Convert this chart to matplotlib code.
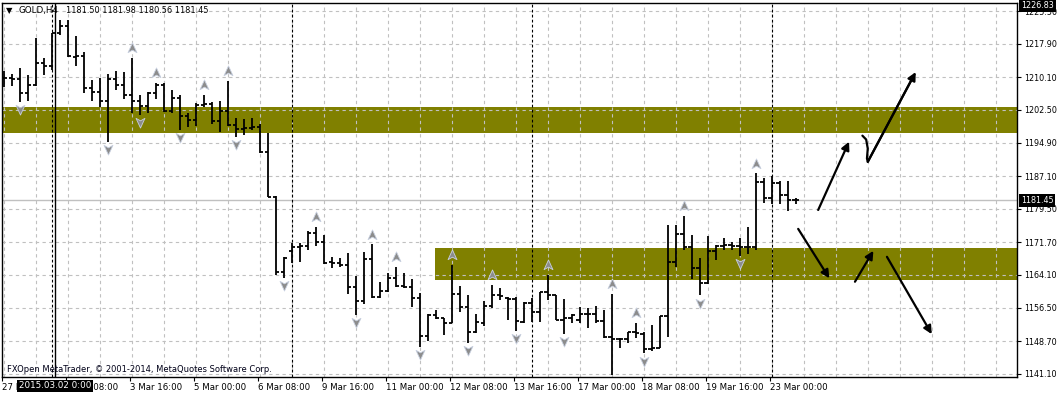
import numpy as np
import matplotlib.pyplot as plt
from matplotlib.path import Path

# GOLD H4 bars, Feb 27 .. Mar 23 2015
opens = [1209.9, 1209.9, 1209.6, 1206.5, 1208.4, 1213.5, 1212.6, 1220.3, 1222.1, 1214.9,
         1215.1, 1207.5, 1206.7, 1204.6, 1209.7, 1208.3, 1206.0, 1204.5, 1203.4, 1206.5,
         1208.4, 1202.2, 1205.2, 1201.1, 1200.1, 1203.6, 1203.9, 1199.8, 1202.3, 1199.0,
         1198.0, 1198.2, 1198.4, 1192.8, 1182.3, 1164.8, 1169.6, 1170.5, 1170.8, 1173.9,
         1171.7, 1167.0, 1166.8, 1166.5, 1161.3, 1158.0, 1167.8, 1159.0, 1160.4, 1163.4,
         1161.5, 1161.2, 1158.6, 1149.9, 1154.8, 1154.0, 1153.0, 1159.6, 1156.6, 1150.9,
         1153.0, 1156.9, 1159.4, 1158.7, 1158.5, 1153.2, 1157.5, 1155.4, 1160.0, 1159.3,
         1153.6, 1154.0, 1153.5, 1155.0, 1154.9, 1153.4, 1149.6, 1149.2, 1149.1, 1150.8,
         1150.4, 1146.8, 1147.0, 1154.5, 1167.2, 1173.5, 1170.5, 1165.8, 1162.1, 1169.7,
         1170.8, 1171.0, 1170.8, 1170.7, 1170.5, 1185.6, 1181.9, 1185.5, 1182.7, 1181.50]
highs = [1211.6, 1210.9, 1212.2, 1210.6, 1219.2, 1214.5, 1220.5, 1223.3, 1223.3, 1219.7,
         1216.0, 1209.5, 1209.9, 1210.9, 1211.6, 1211.2, 1214.6, 1206.0, 1206.7, 1208.8,
         1208.7, 1207.1, 1206.0, 1201.7, 1204.2, 1206.0, 1204.4, 1204.6, 1209.3, 1200.5,
         1200.3, 1200.5, 1199.2, 1197.0, 1182.4, 1168.3, 1171.5, 1171.6, 1174.2, 1175.2,
         1173.4, 1168.2, 1168.0, 1169.3, 1163.8, 1169.5, 1171.2, 1162.5, 1164.5, 1166.0,
         1164.6, 1163.1, 1159.8, 1155.0, 1155.9, 1154.1, 1166.4, 1161.5, 1159.4, 1155.0,
         1158.1, 1161.8, 1161.0, 1158.9, 1159.0, 1157.9, 1158.6, 1160.1, 1164.1, 1159.4,
         1158.4, 1154.9, 1156.7, 1156.3, 1156.9, 1155.9, 1159.7, 1149.4, 1150.9, 1153.0,
         1150.9, 1152.5, 1154.6, 1175.7, 1175.7, 1177.8, 1173.4, 1168.1, 1173.2, 1171.1,
         1172.6, 1171.8, 1172.6, 1175.2, 1187.7, 1186.7, 1187.1, 1186.0, 1186.0, 1181.98]
lows = [1207.8, 1208.1, 1204.3, 1204.6, 1208.1, 1210.6, 1211.8, 1220.0, 1214.8, 1212.7,
        1206.5, 1204.6, 1203.2, 1195.1, 1207.1, 1205.0, 1201.8, 1201.3, 1201.8, 1205.0,
        1202.1, 1201.7, 1197.8, 1198.5, 1198.8, 1203.1, 1199.2, 1197.4, 1198.8, 1196.3,
        1196.7, 1197.7, 1192.4, 1182.2, 1164.1, 1163.3, 1166.8, 1167.2, 1169.9, 1170.8,
        1166.6, 1165.6, 1166.0, 1159.6, 1154.8, 1157.3, 1158.6, 1158.7, 1160.2, 1161.2,
        1161.0, 1156.6, 1147.4, 1148.8, 1153.8, 1150.0, 1153.0, 1155.5, 1148.3, 1150.6,
        1152.2, 1156.3, 1158.3, 1153.6, 1151.1, 1152.8, 1153.2, 1153.2, 1158.3, 1153.5,
        1150.3, 1152.8, 1152.8, 1151.7, 1153.0, 1149.5, 1140.8, 1147.0, 1148.2, 1149.3,
        1145.8, 1146.3, 1147.0, 1149.7, 1166.0, 1170.0, 1163.1, 1159.3, 1162.0, 1167.6,
        1169.9, 1169.9, 1168.5, 1169.0, 1170.0, 1180.9, 1180.5, 1180.6, 1179.0, 1180.56]
closes = [1209.9, 1209.6, 1206.5, 1208.4, 1213.5, 1212.6, 1220.3, 1222.1, 1215.0, 1215.1,
          1207.5, 1206.7, 1204.6, 1209.7, 1208.3, 1206.0, 1204.5, 1203.4, 1206.5, 1208.4,
          1202.2, 1205.2, 1201.1, 1200.1, 1203.6, 1203.9, 1199.8, 1202.3, 1199.0, 1198.0,
          1198.2, 1198.4, 1192.8, 1182.3, 1164.8, 1168.0, 1170.5, 1170.8, 1173.9, 1171.7,
          1166.9, 1166.8, 1166.5, 1161.3, 1158.0, 1167.8, 1159.0, 1160.4, 1163.4, 1161.5,
          1161.2, 1158.6, 1149.9, 1154.8, 1154.0, 1153.0, 1159.6, 1156.6, 1150.9, 1153.2,
          1156.9, 1159.4, 1159.2, 1158.5, 1153.4, 1157.5, 1155.4, 1160.0, 1159.3, 1153.6,
          1154.0, 1154.8, 1155.0, 1154.9, 1153.4, 1149.6, 1149.2, 1149.1, 1150.8, 1150.5,
          1146.8, 1147.0, 1154.5, 1167.2, 1173.5, 1170.5, 1165.8, 1162.1, 1169.7, 1170.8,
          1171.0, 1170.8, 1170.7, 1170.5, 1185.6, 1181.9, 1185.5, 1182.7, 1181.5, 1181.45]

# bar indices carrying Bill Williams fractal marks
up_fractals = [16, 19, 25, 28, 39, 46, 49, 56, 61, 68, 76, 79, 85, 94]
down_fractals = [2, 13, 17, 22, 29, 35, 44, 52, 58, 64, 70, 76, 80, 87, 92]

price_ticks = [1141.10, 1148.70, 1156.50, 1164.10, 1171.70, 1179.50, 1187.10,
               1194.90, 1202.50, 1210.10, 1217.90, 1225.50]
time_label_bars = [0, 8, 16, 24, 32, 40, 48, 56, 64, 72, 80, 88, 96]
time_labels = ['27 Feb 2015', '2 Mar 08:00', '3 Mar 16:00', '5 Mar 00:00', '6 Mar 08:00',
               '9 Mar 16:00', '11 Mar 00:00', '12 Mar 08:00', '13 Mar 16:00',
               '17 Mar 00:00', '18 Mar 08:00', '19 Mar 16:00', '23 Mar 00:00']
week_start_bars = [6, 36, 66, 96]
chart_max = 1226.83

# rectangles drawn on the chart: (start bar, end bar, low, high)
zones = [(-5, 140, 1197.2, 1203.1), (53.95, 140, 1163.0, 1170.35)]
# hand drawn arrows: (start bar, start price, end bar, end price)
arrows = [(101.8, 1179.2, 105.66, 1195.1),
          (99.3, 1174.8, 103.2, 1163.3),
          (106.4, 1162.5, 108.7, 1169.7),
          (110.4, 1168.3, 116.0, 1150.3)]
curve_bars = [107.33, 107.8, 108.0, 107.9, 108.0, 114.0]
curve_prices = [1196.5, 1195.6, 1193.5, 1191.2, 1190.4, 1211.3]

OLIVE = '#808000'
GRID = '#c0c0c0'

x = np.arange(len(opens))

fig = plt.figure(figsize=(10.6, 3.95), dpi=100)
ax = fig.add_axes([2 / 1060, 18 / 395, 1015 / 1060, 374 / 395])
ax.set_xlim(-0.2125, 126.66)
ax.set_ylim(1140.33, 1227.37)

for x0, x1, lo, hi in zones:
    ax.fill_between([x0, x1], lo, hi, color=OLIVE, lw=0, zorder=1)

# grid
for p in price_ticks:
    ax.axhline(p, color=GRID, lw=0.8, ls=(0, (3, 3)), zorder=2)
for b in range(0, 127, 4):
    ax.axvline(b, color=GRID, lw=0.8, ls=(0, (3, 3)), zorder=2)
for b in week_start_bars:
    ax.axvline(b, color='black', lw=0.8, ls=(0, (2.5, 2)), zorder=3)

ax.axhline(closes[-1], color=GRID, lw=1.0, zorder=2)
ax.axvline(6.42, color='black', lw=1.0, zorder=3)

# OHLC bars
ax.vlines(x, lows, highs, color='black', lw=1.3, zorder=4)
ax.hlines(opens, x - 0.42, x, color='black', lw=1.3, zorder=4)
ax.hlines(closes, x, x + 0.42, color='black', lw=1.3, zorder=4)

# fractals
codes = [Path.MOVETO, Path.LINETO, Path.LINETO, Path.LINETO, Path.CLOSEPOLY]
up_pts = [(0, 1), (0.8, -0.75), (0, -0.3), (-0.8, -0.75), (0, 1)]
up_mark = Path(up_pts, codes)
down_mark = Path([(a, -b) for a, b in up_pts], codes)
hi = np.array(highs)
lo = np.array(lows)
ax.plot(up_fractals, hi[up_fractals] + 2.25, ls='none', marker=up_mark, ms=8,
        mfc='#8c8c8c', mec='#c8d0e0', mew=0.6, zorder=5)
ax.plot(down_fractals, lo[down_fractals] - 1.65, ls='none', marker=down_mark, ms=8,
        mfc='#8c8c8c', mec='#c8d0e0', mew=0.6, zorder=5)

# arrows
arrow_style = dict(arrowstyle='-|>', color='black', lw=1.6, mutation_scale=12,
                   shrinkA=0, shrinkB=0)
for b0, p0, b1, p1 in arrows:
    ax.annotate('', xy=(b1, p1), xytext=(b0, p0), arrowprops=arrow_style, zorder=6)
ax.plot(curve_bars[:-1] + [curve_bars[-1] - 0.3], curve_prices[:-1] + [curve_prices[-1] - 1.0],
        color='black', lw=1.6, zorder=6, solid_capstyle='round')
ax.annotate('', xy=(curve_bars[-1], curve_prices[-1]), xytext=(curve_bars[-2], curve_prices[-2]),
            arrowprops=arrow_style, zorder=6)

# axes
for s in ax.spines.values():
    s.set_color('black')
    s.set_linewidth(1.0)
ax.yaxis.tick_right()
ax.set_yticks(price_ticks)
ax.set_yticklabels([f'{p:.2f}' for p in price_ticks])
ax.tick_params(axis='y', direction='out', length=3, width=0.8, pad=2, labelsize=5.8)
ax.set_xticks([b - 0.25 for b in time_label_bars])
ax.set_xticklabels(time_labels)
ax.tick_params(axis='x', direction='out', length=3, width=0.8, pad=1.5, labelsize=6.2)
for lbl in ax.get_xticklabels():
    lbl.set_ha('left')

ytr = ax.get_yaxis_transform()
xtr = ax.get_xaxis_transform()
box = dict(facecolor='black', edgecolor='none', pad=1.3)
ax.text(1.004, chart_max, f'{chart_max:.2f}', transform=ytr, color='white', fontsize=5.8,
        va='center', ha='left', bbox=box, zorder=10, clip_on=False)
ax.text(1.004, closes[-1], f'{closes[-1]:.2f}', transform=ytr, color='white', fontsize=5.8,
        va='center', ha='left', bbox=box, zorder=10, clip_on=False)
ax.text(6.42, -0.024, '2015.03.02 0:00', transform=xtr, color='white', fontsize=6.3,
        va='center', ha='center', bbox=box, zorder=10, clip_on=False)

fig.text(9.5 / 1060, 1 - 10.7 / 395, '\u25bc', fontsize=6, ha='center', va='center')
fig.text(18.3 / 1060, 1 - 10.7 / 395, 'GOLD,H4', fontsize=6.3, va='center')
fig.text(66 / 1060, 1 - 10.7 / 395,
         f'{opens[-1]:.2f} {highs[-1]:.2f} {lows[-1]:.2f} {closes[-1]:.2f}',
         fontsize=5.9, va='center')
fig.text(7.4 / 1060, 1 - 369.5 / 395,
         'FXOpen MetaTrader, \u00a9 2001-2014, MetaQuotes Software Corp.',
         fontsize=6.0, va='center', color='#000018')

fig.savefig('out.png', dpi=100)
